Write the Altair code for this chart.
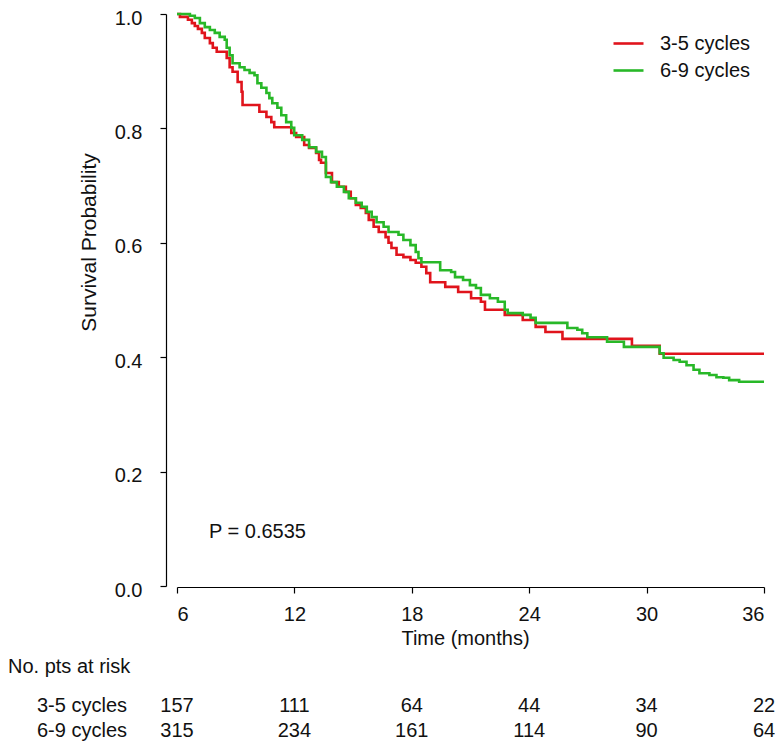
import altair as alt
import pandas as pd

# ---------------- data ----------------
groups = ["3-5 cycles", "6-9 cycles"]
colors = ["#e0141c", "#28b828"]

red_t = [6.0, 6.15, 6.56, 6.76, 6.91, 7.07, 7.27, 7.42, 7.68, 7.83, 8.03, 8.54, 8.69, 8.84, 9.10,
         9.30, 9.35, 10.21, 10.57, 10.82, 10.97, 11.84, 12.09, 12.50, 12.75, 13.11, 13.26, 13.36,
         13.61, 13.92, 14.27, 14.63, 14.88, 15.14, 15.39, 15.65, 15.80, 16.05, 16.31, 16.66, 16.81,
         16.96, 17.22, 17.57, 17.93, 18.20, 18.49, 18.74, 18.94, 19.71, 20.37, 21.03, 21.53, 21.74,
         22.75, 23.67, 24.33, 24.83, 25.70, 29.25, 30.67, 36.0]
red_s = [1.0, 0.995, 0.990, 0.984, 0.979, 0.974, 0.967, 0.958, 0.949, 0.941, 0.934, 0.923, 0.907,
         0.899, 0.881, 0.864, 0.841, 0.829, 0.820, 0.811, 0.802, 0.792, 0.785, 0.771, 0.766, 0.757,
         0.745, 0.740, 0.722, 0.706, 0.698, 0.689, 0.678, 0.666, 0.661, 0.652, 0.640, 0.628, 0.619,
         0.610, 0.600, 0.591, 0.579, 0.575, 0.570, 0.565, 0.558, 0.547, 0.531, 0.523, 0.514, 0.503,
         0.497, 0.483, 0.474, 0.465, 0.453, 0.444, 0.432, 0.420, 0.406, 0.406]

green_t = [6.0, 6.66, 6.91, 7.17, 7.42, 7.68, 7.93, 8.18, 8.44, 8.54, 8.69, 8.84, 9.20, 9.45, 9.71,
           9.96, 10.11, 10.31, 10.57, 10.72, 10.87, 11.13, 11.33, 11.58, 11.84, 11.99, 12.40, 12.75,
           13.11, 13.41, 13.61, 13.87, 14.17, 14.53, 14.78, 15.14, 15.44, 15.70, 15.95, 16.20, 16.56,
           16.81, 17.32, 17.57, 17.93, 18.20, 18.34, 18.49, 19.45, 20.01, 20.21, 20.62, 20.97, 21.28,
           21.53, 21.99, 22.40, 22.75, 22.90, 23.67, 24.07, 24.33, 25.95, 26.46, 26.71, 26.97, 27.98,
           28.84, 30.67, 30.87, 31.38, 31.69, 32.04, 32.40, 32.70, 33.21, 33.57, 33.92, 34.22, 34.73,
           36.0]
green_s = [1.0, 0.997, 0.993, 0.984, 0.977, 0.972, 0.967, 0.960, 0.955, 0.941, 0.928, 0.914, 0.907,
           0.902, 0.897, 0.893, 0.879, 0.871, 0.862, 0.853, 0.844, 0.836, 0.823, 0.811, 0.801, 0.788,
           0.780, 0.767, 0.759, 0.750, 0.715, 0.706, 0.698, 0.689, 0.678, 0.670, 0.663, 0.654, 0.645,
           0.636, 0.628, 0.619, 0.614, 0.605, 0.596, 0.584, 0.573, 0.566, 0.552, 0.549, 0.540, 0.535,
           0.526, 0.521, 0.509, 0.503, 0.497, 0.483, 0.477, 0.474, 0.469, 0.460, 0.451, 0.448, 0.442,
           0.435, 0.427, 0.418, 0.407, 0.399, 0.395, 0.392, 0.386, 0.378, 0.372, 0.369, 0.365, 0.364,
           0.360, 0.357, 0.357]

x_ticks = [6, 12, 18, 24, 30, 36]
y_ticks = [0.0, 0.2, 0.4, 0.6, 0.8, 1.0]

risk_times = [6, 12, 18, 24, 30, 36]
risk_35 = [157, 111, 64, 44, 34, 22]
risk_69 = [315, 234, 161, 114, 90, 64]

p_label = "P = 0.6535"
risk_title = "No. pts at risk"

FONT = "Liberation Sans"
FS = 20

# ---------------- tables ----------------
rows = []
for g, ts, ss in [(groups[0], red_t, red_s), (groups[1], green_t, green_s)]:
    for t, s in zip(ts, ss):
        rows.append({"group": g, "time": t, "surv": s})
curves = pd.DataFrame(rows)


def fmt(v):
    return f"{v:>3}".replace(" ", "\u2007")


risk_a = pd.DataFrame({"time": risk_times, "label": [fmt(v) for v in risk_35]})
risk_b = pd.DataFrame({"time": risk_times, "label": [fmt(v) for v in risk_69]})

x_scale = alt.Scale(domain=[6, 36], nice=False, zero=False)
y_scale = alt.Scale(domain=[0, 1], nice=False, zero=False)
color_scale = alt.Scale(domain=groups, range=colors)

lines = alt.Chart(curves).mark_line(interpolate="step-after", strokeWidth=2.6).encode(
    x=alt.X("time:Q", scale=x_scale,
            axis=alt.Axis(values=x_ticks, title="Time (months)", grid=False, offset=1,
                          tickSize=6, labelPadding=27, labelBaseline="alphabetic",
                          titleX=288, titleY=57, titleBaseline="alphabetic", titleAlign="center")),
    y=alt.Y("surv:Q", scale=y_scale,
            axis=alt.Axis(values=y_ticks, format=".1f", title="Survival Probability", grid=False,
                          offset=11, tickSize=6, labelPadding=18, labelBaseline="alphabetic",
                          labelOffset=10, titleX=-71, titleY=228, titleBaseline="alphabetic",
                          titleAlign="center", titleAngle=270, titleFontSize=21)),
    color=alt.Color("group:N", scale=color_scale,
                    legend=alt.Legend(orient="none", legendX=435, legendY=13, title=None,
                                      symbolType="stroke", symbolSize=900, symbolStrokeWidth=2.6,
                                      labelFontSize=FS, labelFont=FONT, labelColor="#111",
                                      labelOffset=15, padding=0, rowPadding=0)),
)

p_text = alt.Chart(pd.DataFrame({"label": [p_label]})).mark_text(
    align="left", baseline="alphabetic", fontSize=FS, font=FONT, color="#111"
).encode(x=alt.value(32), y=alt.value(524), text="label:N")

risk_head = alt.Chart(pd.DataFrame({"label": [risk_title]})).mark_text(
    align="left", baseline="alphabetic", fontSize=FS, font=FONT, color="#111"
).encode(x=alt.value(-169), y=alt.value(659), text="label:N")

row_a_label = alt.Chart(pd.DataFrame({"label": [groups[0]]})).mark_text(
    align="right", baseline="alphabetic", fontSize=FS, font=FONT, color="#111"
).encode(x=alt.value(-50), y=alt.value(698), text="label:N")

row_b_label = alt.Chart(pd.DataFrame({"label": [groups[1]]})).mark_text(
    align="right", baseline="alphabetic", fontSize=FS, font=FONT, color="#111"
).encode(x=alt.value(-50), y=alt.value(723), text="label:N")

row_a = alt.Chart(risk_a).mark_text(
    align="center", baseline="alphabetic", fontSize=FS, font=FONT, color="#111"
).encode(x=alt.X("time:Q", scale=x_scale), y=alt.value(698), text="label:N")

row_b = alt.Chart(risk_b).mark_text(
    align="center", baseline="alphabetic", fontSize=FS, font=FONT, color="#111"
).encode(x=alt.X("time:Q", scale=x_scale), y=alt.value(723), text="label:N")

chart = alt.layer(lines, p_text, risk_head, row_a_label, row_b_label, row_a, row_b).properties(
    width=587, height=572,
    autosize=alt.AutoSizeParams(type="none"),
    padding={"left": 169, "top": 6, "right": 11, "bottom": 159},
).configure(font=FONT).configure_view(stroke=None).configure_axis(
    labelFont=FONT, titleFont=FONT, labelFontSize=FS, titleFontSize=FS,
    labelColor="#111", titleColor="#111", titleFontWeight="normal",
    domainColor="#000", tickColor="#000", domainWidth=1.2, tickWidth=1.2,
)

chart.save("out.html", embed_options={"renderer": "svg", "actions": False})
